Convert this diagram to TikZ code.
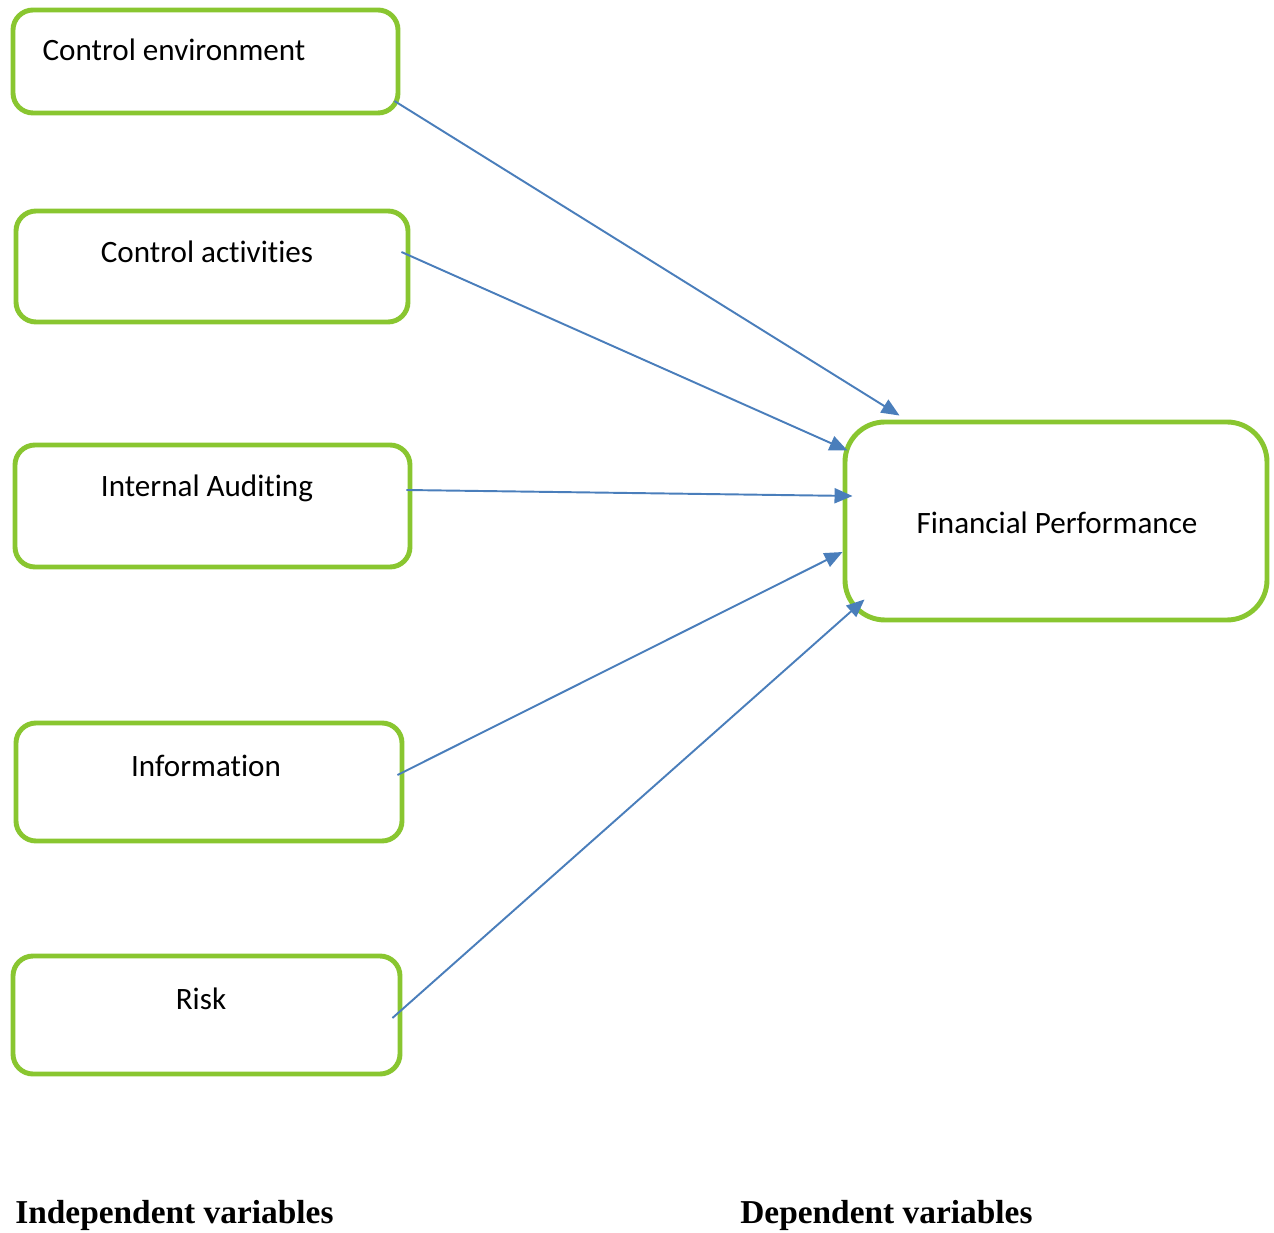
\documentclass[tikz,border=0pt]{standalone}
\usepackage{fontspec}
\setmainfont{Liberation Serif}
\newfontfamily\boxfont[Ligatures=NoCommon]{Carlito}
\usepackage{xcolor}
\usetikzlibrary{calc,positioning,arrows.meta}
\definecolor{boxgreen}{RGB}{137,198,48}
\definecolor{linkblue}{RGB}{74,126,187}

\begin{document}
\begin{tikzpicture}[
  box/.style={draw=boxgreen, line width=2.8pt, rounded corners=0.4cm},
  boxtext/.style={font=\boxfont\fontsize{17.7}{21}\selectfont, inner sep=0pt},
  link/.style={draw=linkblue, line width=1.1pt,
    -{Triangle[length=0.36cm, width=0.30cm]}},
  caption/.style={font=\bfseries\fontsize{19}{22}\selectfont, anchor=west, inner sep=0pt}
]
  \useasboundingbox (0,0) rectangle (25.48,-24.66);

  % Independent variables
  \node[box, minimum width=7.7cm, minimum height=2.06cm] (ce) at (4.11,-1.23) {};
  \node[boxtext] (ce-txt) at (3.48,-1.00) {Control environment};

  \node[box, minimum width=7.84cm, minimum height=2.22cm] (ca) at (4.24,-5.33) {};
  \node[boxtext] (ca-txt) at (4.14,-5.04) {Control activities};

  \node[box, minimum width=7.9cm, minimum height=2.44cm] (ia) at (4.25,-10.12) {};
  \node[boxtext] (ia-txt) at (4.14,-9.76) {Internal Auditing};

  \node[box, minimum width=7.72cm, minimum height=2.36cm] (inf) at (4.18,-15.64) {};
  \node[boxtext] (inf-txt) at (4.12,-15.32) {Information};

  \node[box, minimum width=7.74cm, minimum height=2.36cm] (risk) at (4.13,-20.30) {};
  \node[boxtext] (risk-txt) at (4.02,-19.98) {Risk};

  % Dependent variable
  \node[box, rounded corners=0.8cm, minimum width=8.44cm, minimum height=3.96cm]
    (fp) at (21.12,-10.42) {};
  \node[boxtext] (fp-txt) at (21.14,-10.46) {Financial Performance};

  % Links
  \draw[link] ([shift={(-0.12,-0.79)}]ce.east) -- ([shift={(1.14,0.08)}]fp.north west);
  \draw[link] ([shift={(-0.18,0.29)}]ca.east) -- ([shift={(0.10,-0.62)}]fp.north west);
  \draw[link] ([shift={(-0.12,0.32)}]ia.east) -- ([shift={(0.20,0.50)}]fp.west);
  \draw[link] ([shift={(-0.14,0.14)}]inf.east) -- ([shift={(0,-0.62)}]fp.west);
  \draw[link] ([shift={(-0.20,-0.06)}]risk.east) -- ([shift={(0.44,0.46)}]fp.south west);

  % Captions
  \node[caption] (indep) at (0.30,-24.30) {Independent variables};
  \node[caption] (dep) at (14.80,-24.30) {Dependent variables};
\end{tikzpicture}
\end{document}
